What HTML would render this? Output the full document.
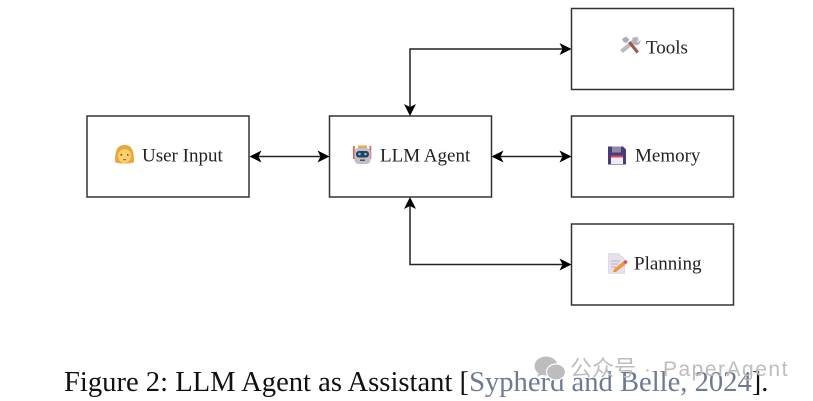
<!DOCTYPE html>
<html><head><meta charset="utf-8"><style>
html,body{margin:0;padding:0;background:#fff;overflow:hidden}
svg{display:block;filter:blur(0.35px)}
text{font-family:"Liberation Serif",serif;fill:#222}
</style></head><body>
<svg width="813" height="401" viewBox="0 0 813 401" xmlns="http://www.w3.org/2000/svg">
<defs>
<path id="ah" d="M0 0 L-12 -6 L-9 0 L-12 6 Z" fill="#000"/>
</defs>
<g fill="#fff" stroke="#333" stroke-width="1.5">
<rect x="87" y="116" width="162" height="81"/>
<rect x="329.5" y="116" width="162" height="81"/>
<rect x="571.5" y="8.5" width="162" height="81"/>
<rect x="571.5" y="116" width="162" height="81"/>
<rect x="571.5" y="224" width="162" height="81"/>
</g>
<g fill="none" stroke="#222" stroke-width="1.5">
<path d="M252 156.5H327"/>
<path d="M494 156.5H569"/>
<path d="M410 114V49H569"/>
<path d="M410 199V264.500H569"/>
</g>
<use href="#ah" transform="translate(249.500,156.500) rotate(180)"/>
<use href="#ah" transform="translate(329.500,156.500)"/>
<use href="#ah" transform="translate(491.500,156.500) rotate(180)"/>
<use href="#ah" transform="translate(571.500,156.500)"/>
<use href="#ah" transform="translate(571.500,49)"/>
<use href="#ah" transform="translate(571.500,264.500)"/>
<use href="#ah" transform="translate(410,116) rotate(90)"/>
<use href="#ah" transform="translate(410,197) rotate(-90)"/>

<!-- User emoji -->
<path d="M115 162c0-13 3-17 9.500-17s9.500 4 9.500 17c-2 2-17 2-19 0z" fill="#e9a63c"/>
<ellipse cx="124.500" cy="156" rx="6.500" ry="7" fill="#fbcf6b"/>
<rect x="120.500" y="154" width="1.600" height="1.600" fill="#7a5a30"/><rect x="127" y="154" width="1.600" height="1.600" fill="#7a5a30"/>
<rect x="123" y="159" width="3" height="1.200" fill="#c9604a"/>
<text x="142" y="161.500" font-size="19">User Input</text>

<!-- Robot emoji -->
<rect x="353" y="146" width="1.800" height="13" fill="#d9655f"/><rect x="369.500" y="146" width="1.800" height="13" fill="#d9655f"/>
<rect x="358" y="145.500" width="9" height="3" fill="#eaa94c"/>
<rect x="354.500" y="148" width="16" height="16" rx="4" fill="#c3bec9"/>
<rect x="356" y="151" width="13" height="6.500" rx="3" fill="#26415c"/>
<circle cx="359.500" cy="154" r="1.300" fill="#6cc4ee"/><circle cx="365.500" cy="154" r="1.300" fill="#6cc4ee"/>
<rect x="360" y="159.500" width="5" height="1.500" fill="#55505e"/>
<text x="380" y="161.500" font-size="19">LLM Agent</text>

<!-- Tools emoji -->
<path d="M620 50l16-13 3 3-16 13z" fill="#bdb9c4"/>
<path d="M632 38c2-1 5-1 6.500-.5l-2.500 3 2 2 2.500-2.500c.5 3-2 6-6 5z" fill="#b5b1bc"/>
<path d="M622 39l4-2.500 3.500 3-3 3.500-3-1z" fill="#afabb6"/>
<path d="M628 43l8.500 10.500 2.500-2-8.500-10.500z" fill="#9a5f45"/>
<text x="646" y="53.500" font-size="19">Tools</text>

<!-- Memory emoji -->
<path d="M608 146.500h15l3 3v15h-18z" fill="#4b3a78"/>
<rect x="612" y="146.500" width="9" height="6" fill="#8f88a6"/>
<rect x="611" y="155.500" width="12" height="2" fill="#e2455a"/>
<rect x="611" y="157.500" width="12" height="6.500" fill="#f0ecf5"/>
<text x="635" y="161.500" font-size="19">Memory</text>

<!-- Planning emoji -->
<path d="M608.500 253.500h10l6 6v14h-16z" fill="#e6e1ec" stroke="#d2cbdc" stroke-width=".6"/>
<path d="M611 261h9M611 264h7M611 267h5" stroke="#b9b1c6" stroke-width="1"/>
<path d="M613 272l1-3 10-8 2 3-10 8z" fill="#f0963c"/>
<circle cx="625.500" cy="262" r="1.800" fill="#e8476b"/>
<text x="634" y="269.500" font-size="19">Planning</text>

<!-- Caption -->
<text x="64" y="391" font-size="28.600" style="fill:#111">Figure 2: LLM Agent as Assistant [<tspan style="fill:#6e7a92">Sypherd and Belle, 2024</tspan>].</text>

<!-- Watermark -->
<g fill="#bdbdbd">
<ellipse cx="546" cy="366" rx="11.500" ry="9.500"/>
<path d="M539 372l-2 5 6-3z"/>
<ellipse cx="556" cy="372" rx="9.500" ry="8" stroke="#fff" stroke-width="1.200"/>
</g>
<text x="570" y="376" font-size="22" style='fill:#bdbdbd;font-family:"Liberation Sans","Noto Sans CJK SC",sans-serif'>公众号</text>
<text x="644" y="376" font-size="21" style='fill:#bdbdbd;font-family:"Liberation Sans",sans-serif'>·</text>
<text x="663" y="376" font-size="21" style='fill:#bdbdbd;font-family:"Liberation Sans",sans-serif;letter-spacing:1.500px'>PaperAgent</text>
</svg>
</body></html>
